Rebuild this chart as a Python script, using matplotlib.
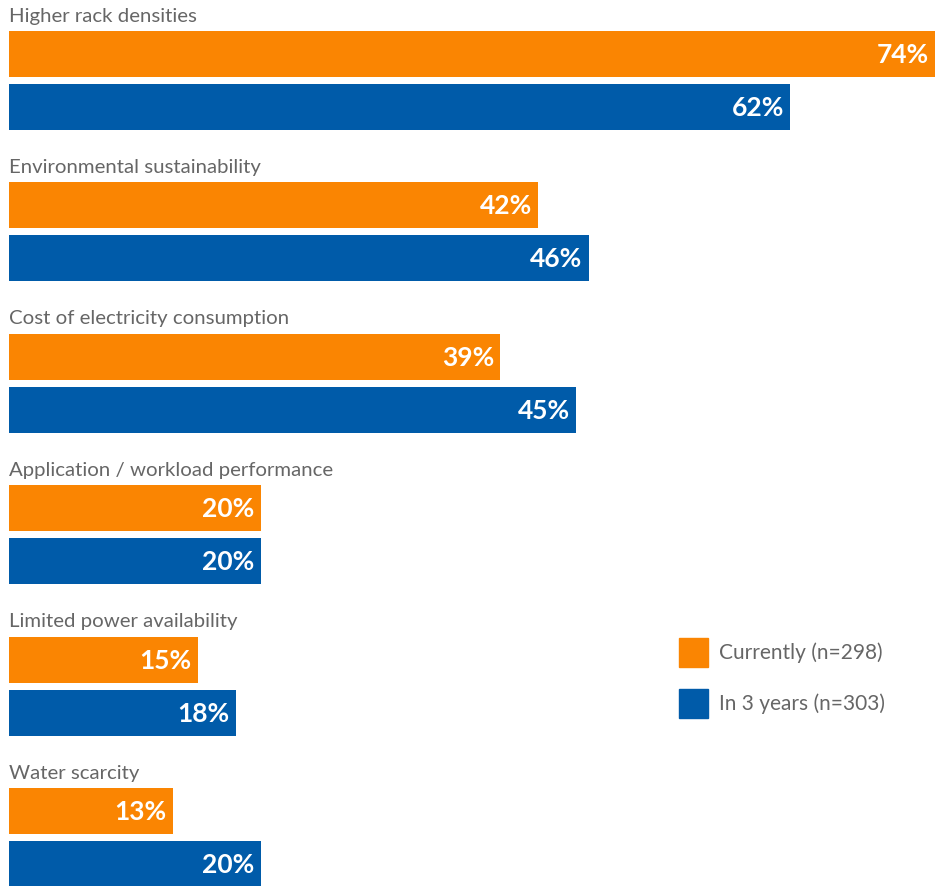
import matplotlib
matplotlib.use('Agg')
import matplotlib.pyplot as plt
from matplotlib.patches import Rectangle

categories = [
    'Higher rack densities',
    'Environmental sustainability',
    'Cost of electricity consumption',
    'Application / workload performance',
    'Limited power availability',
    'Water scarcity',
]
currently = [74, 42, 39, 20, 15, 13]
in_3_years = [62, 46, 45, 20, 18, 20]
series_labels = ['Currently', 'In 3 years']
series_n = ['(n=298)', '(n=303)']

ORANGE = '#fa8502'
BLUE = '#005ba9'
GREY = '#666666'

plt.rcParams['font.family'] = ['Lato', 'DejaVu Sans']

W, H = 935, 886
fig = plt.figure(figsize=(W / 100, H / 100), dpi=100)
# y axis in pixel units (top = 0), x axis in percent
ax = fig.add_axes((9 / W, 0, (W - 9) / W, 1))
ax.axis('off')
ax.set_xlim(0, (W - 9) / 12.6)
ax.set_ylim(H, 0)

first_top = 31
group_step = 151.4
bar_h = 46
gap = 53

for i, (cat, a, b) in enumerate(zip(categories, currently, in_3_years)):
    top = first_top + i * group_step
    ax.text(0, top - 15, cat, color=GREY, fontsize=14.7, ha='left', va='center')
    for j, (v, c) in enumerate(((a, ORANGE), (b, BLUE))):
        yc = top + j * gap + bar_h / 2
        ax.barh(yc, v, height=bar_h, color=c, left=0)
        ax.text(min(v, ax.get_xlim()[1]) - 0.5, yc + 1, f'{v}%', color='white',
                fontsize=19, fontweight='bold', ha='right', va='center')

# legend
for k, (lab, n, c) in enumerate(zip(series_labels, series_n, (ORANGE, BLUE))):
    y0 = 638 + k * 51
    fig.patches.append(Rectangle((679 / W, 1 - (y0 + 29) / H), 29 / W, 29 / H,
                                 transform=fig.transFigure, color=c))
    fig.text(719 / W, 1 - (y0 + 15) / H, f'{lab} {n}', color=GREY,
             fontsize=15, ha='left', va='center')

fig.savefig('out.png', dpi=100, facecolor='white')
